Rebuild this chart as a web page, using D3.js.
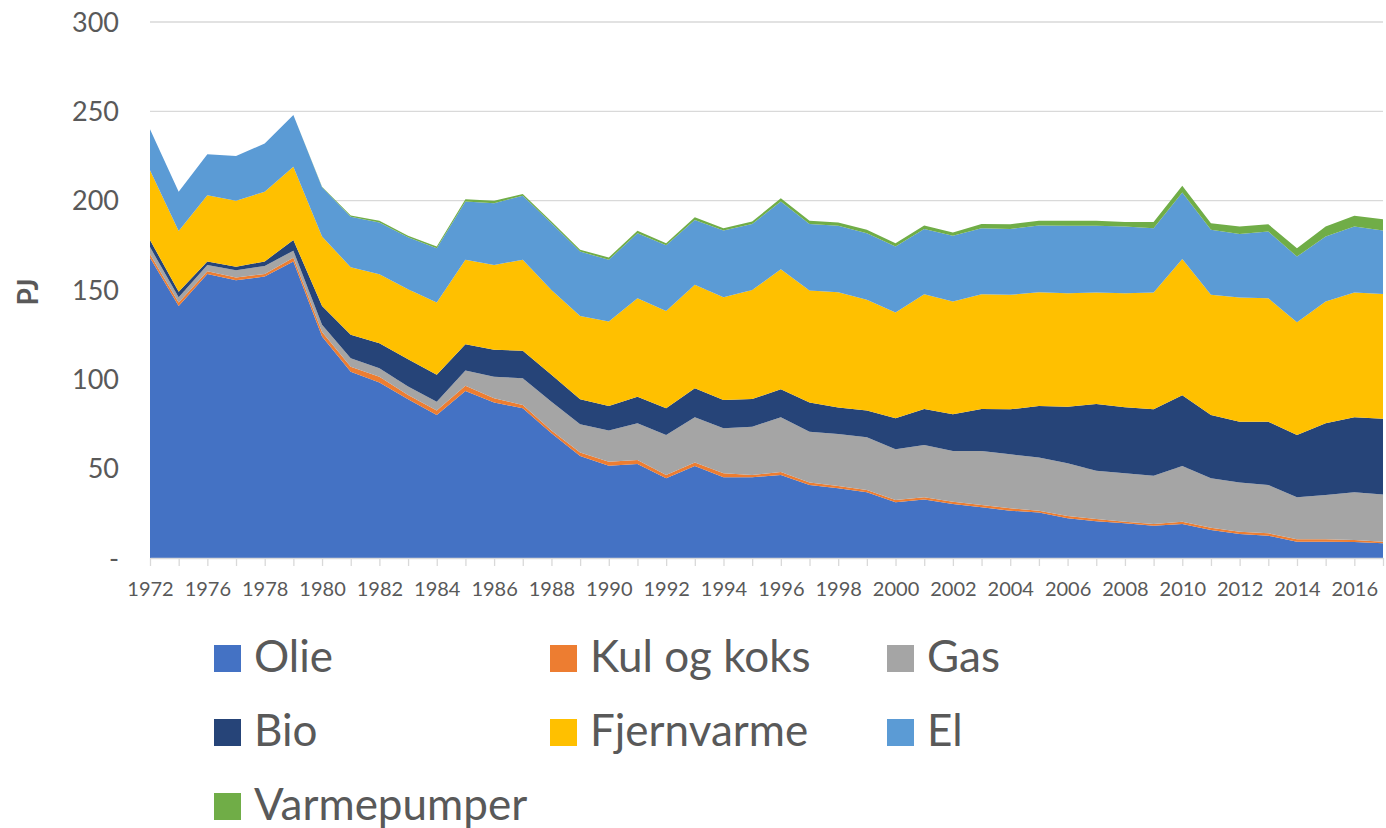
<!DOCTYPE html>
<html>
<head>
<meta charset="utf-8">
<script src="https://cdn.jsdelivr.net/npm/d3@7"></script>
<style>
  body { margin: 0; background: #fff; }
  text { font-family: Lato, "Open Sans", sans-serif; fill: #595959; }
</style>
</head>
<body>
<svg width="1386" height="828"></svg>
<script>
var years = [1972, 1975, 1976, 1977, 1978, 1979, 1980, 1981, 1982, 1983, 1984, 1985, 1986, 1987, 1988,
  1989, 1990, 1991, 1992, 1993, 1994, 1995, 1996, 1997, 1998, 1999, 2000, 2001, 2002, 2003, 2004,
  2005, 2006, 2007, 2008, 2009, 2010, 2011, 2012, 2013, 2014, 2015, 2016, 2017];

var olie = [168, 141, 159, 155.5, 157.5, 166, 124, 104.3, 98.2, 88.8, 80, 93.5, 87, 83.8, 69.8, 57.1,
  51.7, 52.6, 44.6, 51.5, 45.2, 45.2, 46.5, 40.9, 39, 36.8, 31.2, 32.8, 30.2, 28.4, 26.5, 25.4, 22.2,
  20.5, 19.4, 18.1, 19, 15.7, 13.4, 12.5, 9.1, 9.1, 9, 8.2];
var kul = [2, 2, 1.5, 1.5, 1.5, 2, 2.5, 2.7, 3.3, 2.5, 2.5, 2.9, 2.4, 1.9, 1.5, 1.9, 2.2, 2.3, 1.9, 1.9,
  2.2, 1.3, 1.7, 1.3, 1.3, 1.3, 1.3, 1.2, 1.3, 1.3, 1.3, 1.1, 1.3, 1.3, 0.9, 0.9, 1.3, 1.3, 1.3, 1.3,
  1.4, 1.4, 1.1, 0.9];
var gas = [4, 3, 3.5, 4, 4.5, 4, 4, 4.8, 4.7, 4.7, 5, 8.6, 12.1, 14.9, 16.2, 15.8, 17.4, 20.5, 22.4,
  25.4, 25.2, 27, 30.6, 28.5, 29.1, 29.5, 28.3, 29.3, 28.4, 30.2, 30.2, 29.7, 29.5, 27.1, 27.1, 27.1,
  31.2, 27.6, 27.5, 27.1, 23.5, 24.8, 26.7, 26.5];
var bio = [4, 3, 2, 2, 2.5, 6, 10.5, 13.1, 14, 15.2, 15, 14.7, 15, 15.4, 15, 14, 13.8, 14.9, 14.9, 16.2,
  15.9, 15.5, 15.6, 16.3, 14.8, 14.9, 17.4, 20.1, 20.5, 23.5, 25.2, 28.9, 31.7, 37.3, 37, 37.1, 39.6,
  35.5, 34.1, 35.4, 34.9, 40.1, 42, 42.4];
var fjernvarme = [39, 34, 37, 37, 39, 41, 39, 37.8, 38.6, 39.2, 40.5, 47.2, 47.5, 50.9, 47.5, 46.7, 47.2,
  55.1, 54.5, 57.9, 57.5, 61, 67.2, 62.7, 64.5, 62, 59.2, 64.2, 63.1, 64.2, 64.1, 63.6, 63.5, 62.4, 63.8,
  65.4, 76.3, 67.2, 69.5, 69.1, 63.1, 68.1, 69.8, 69.8];
var el = [23, 22, 23, 25, 27, 29, 27.5, 28.3, 29, 29.1, 30.4, 32.6, 34.6, 35.8, 37.4, 36, 34.6, 36.4,
  36.8, 36.3, 37.3, 37, 37.9, 37.3, 37.2, 37.3, 36.9, 36.6, 36.8, 37, 36.9, 37.4, 37.7, 37.3, 37.3, 36,
  37.2, 36.4, 35.6, 37.3, 36.7, 36.4, 36.9, 35.5];
var varmepumper = [0, 0, 0, 0, 0, 0, 0.3, 0.7, 0.9, 0.8, 0.9, 1.3, 1.3, 1.1, 0.9, 1, 1.3, 1.3, 1.1, 1.5,
  1.3, 1.3, 1.9, 1.7, 1.9, 1.9, 1.9, 1.9, 1.9, 2.4, 2.6, 2.6, 2.8, 2.8, 2.6, 3.5, 3.7, 3.7, 4.1, 4.1,
  4.7, 5.6, 6, 6.3];

var seriesNames = ["Olie", "Kul og koks", "Gas", "Bio", "Fjernvarme", "El", "Varmepumper"];
var seriesValues = [olie, kul, gas, bio, fjernvarme, el, varmepumper];
var colors = ["#4472C4", "#ED7D31", "#A5A5A5", "#264478", "#FFC000", "#5B9BD5", "#70AD47"];
var yTicks = [0, 50, 100, 150, 200, 250, 300];

var table = years.map(function(yr, i) {
  var row = { year: yr };
  seriesNames.forEach(function(name, s) { row[name] = seriesValues[s][i]; });
  return row;
});

var svg = d3.select("svg");

var x = d3.scalePoint().domain(years).range([150, 1383]);
var y = d3.scaleLinear().domain([0, 300]).range([558, 22]);

// gridlines
svg.append("g").selectAll("line")
  .data(yTicks.filter(function(d) { return d > 0; }))
  .enter().append("line")
  .attr("x1", 150).attr("x2", 1383)
  .attr("y1", function(d) { return y(d); })
  .attr("y2", function(d) { return y(d); })
  .attr("stroke", "#d9d9d9")
  .attr("stroke-width", 1.3);

var stack = d3.stack().keys(seriesNames);
var layers = stack(table);

var area = d3.area()
  .x(function(d) { return x(d.data.year); })
  .y0(function(d) { return y(d[0]); })
  .y1(function(d) { return y(d[1]); });

svg.append("g").selectAll("path")
  .data(layers)
  .enter().append("path")
  .attr("d", area)
  .attr("fill", function(d, i) { return colors[i]; });

// x axis
var xAxis = svg.append("g")
  .attr("transform", "translate(0,558)")
  .call(d3.axisBottom(x)
    .tickSize(8)
    .tickSizeOuter(0)
    .tickFormat(function(d, i) { return i % 2 ? "" : d; }));
xAxis.select(".domain").attr("stroke", "#d9d9d9").attr("stroke-width", 1.3);
xAxis.selectAll(".tick line").attr("stroke", "#d9d9d9").attr("stroke-width", 1.3);
xAxis.selectAll(".tick text")
  .attr("y", 24)
  .style("font-family", "Lato, sans-serif")
  .style("font-size", "20px")
  .attr("fill", "#595959");

// y labels
svg.append("g").selectAll("text")
  .data(yTicks)
  .enter().append("text")
  .attr("x", 119)
  .attr("y", function(d) { return y(d); })
  .attr("dy", "0.36em")
  .attr("text-anchor", "end")
  .style("font-size", "27px")
  .text(function(d) { return d === 0 ? "-" : d; });

svg.append("text")
  .attr("transform", "translate(28,292) rotate(-90)")
  .attr("text-anchor", "middle")
  .attr("dy", "0.36em")
  .style("font-size", "28px")
  .style("font-weight", "bold")
  .text("PJ");

// legend
var legend = svg.append("g").selectAll("g")
  .data(seriesNames)
  .enter().append("g")
  .attr("transform", function(d, i) {
    return "translate(" + [214, 550, 887][i % 3] + "," + (645 + Math.floor(i / 3) * 74) + ")";
  });

legend.append("rect")
  .attr("width", 27)
  .attr("height", 27)
  .attr("fill", function(d, i) { return colors[i]; });

legend.append("text")
  .attr("x", 40)
  .attr("y", 27)
  .style("font-size", "44px")
  .text(function(d) { return d; });
</script>
</body>
</html>
